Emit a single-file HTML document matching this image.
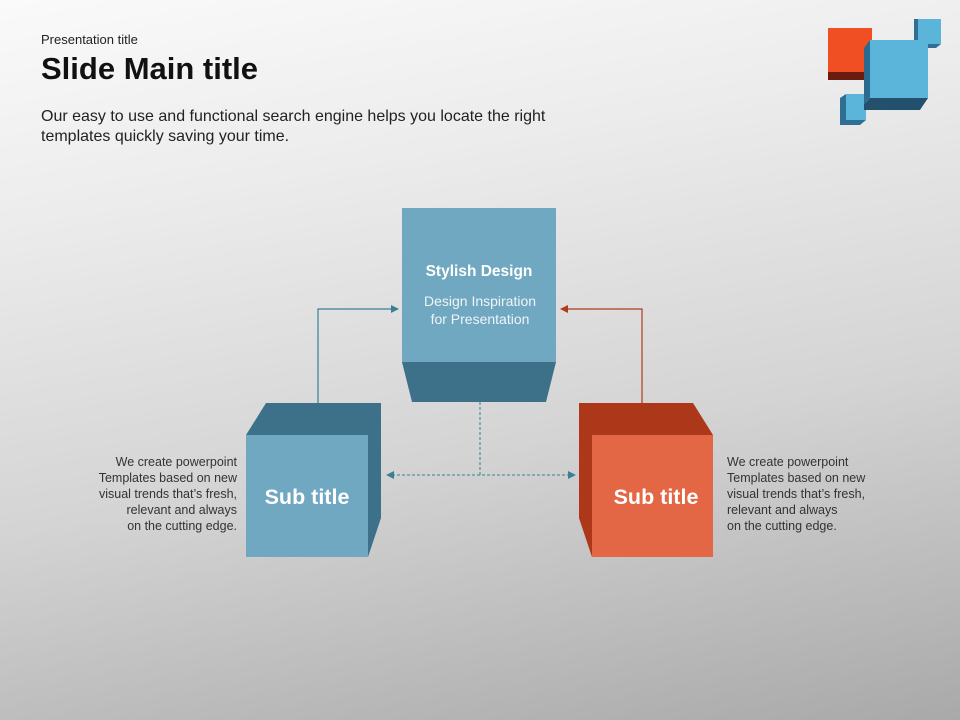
<!DOCTYPE html>
<html><head><style>
body{margin:0;width:960px;height:720px;overflow:hidden;font-family:"Liberation Sans",sans-serif;}
.bg{position:absolute;inset:0;background:linear-gradient(170deg,#fafafa 0%,#ececec 25%,#d4d4d4 60%,#a9a9a9 100%);}
.t{position:absolute;color:#222;white-space:nowrap;}
</style></head><body>
<div class="bg"></div>
<div class="t" style="left:41px;top:32px;font-size:13px;">Presentation title</div>
<div class="t" style="left:41px;top:51px;font-size:31px;font-weight:bold;color:#111;">Slide Main title</div>
<div class="t" style="left:41px;top:107px;font-size:16px;line-height:20px;">Our easy to use and functional search engine helps you locate the right<br>templates quickly saving your time.</div>
<div class="t" style="left:40px;top:454px;width:197px;text-align:right;font-size:12.5px;line-height:16px;color:#333;">We create powerpoint<br>Templates based on new<br>visual trends that’s fresh,<br>relevant and always<br>on the cutting edge.</div>
<div class="t" style="left:727px;top:454px;width:180px;font-size:12.5px;line-height:16px;color:#333;">We create powerpoint<br>Templates based on new<br>visual trends that’s fresh,<br>relevant and always<br>on the cutting edge.</div>
<svg width="960" height="720" style="position:absolute;left:0;top:0">
<defs>
<marker id="ab" markerWidth="8" markerHeight="8" refX="7" refY="4" orient="auto" markerUnits="userSpaceOnUse"><path d="M0,0 L8,4 L0,8z" fill="#3a7f97"/></marker>
<marker id="ar" markerWidth="8" markerHeight="8" refX="7" refY="4" orient="auto" markerUnits="userSpaceOnUse"><path d="M0,0 L8,4 L0,8z" fill="#b03b1e"/></marker>
<marker id="ad" markerWidth="8" markerHeight="8" refX="7" refY="4" orient="auto-start-reverse" markerUnits="userSpaceOnUse"><path d="M0,0 L8,4 L0,8z" fill="#3a7f97"/></marker>
</defs>
<rect x="828" y="28" width="44" height="44" fill="#f04e23"/>
<rect x="828" y="72" width="44" height="8" fill="#6b1c10"/>
<polygon points="840,98 846,94 866,94 866,120 860,125 840,125" fill="#2e6f93"/>
<rect x="846" y="94" width="20" height="26" fill="#5bb4da"/>
<polygon points="914,19 918,19 941,19 941,44 936,48 914,48" fill="#2e6f93"/>
<rect x="918" y="19" width="23" height="25" fill="#5bb4da"/>
<polygon points="864,104 870,98 870,40 928,40 928,98 920,110 864,110" fill="#23506c"/>
<polygon points="864,104 870,98 870,40 864,48" fill="#2c6a8e"/>
<rect x="870" y="40" width="58" height="58" fill="#5bb4da"/>
<rect x="402" y="208" width="154" height="155" fill="#71a8c1"/>
<polygon points="402,362 556,362 546,402 412,402" fill="#3d7189"/>
<polygon points="246,435 266,403 381,403 381,518 368,557 246,557" fill="#3d7189"/>
<rect x="246" y="435" width="122" height="122" fill="#71a8c1"/>
<polygon points="579,403 693,403 713,435 713,557 592,557 579,518" fill="#ad3719"/>
<rect x="592" y="435" width="121" height="122" fill="#e36745"/>
<polyline points="318,403 318,309 398,309" fill="none" stroke="#3a7f97" stroke-width="1.2" marker-end="url(#ab)"/>
<polyline points="642,403 642,309 561,309" fill="none" stroke="#b03b1e" stroke-width="1.2" marker-end="url(#ar)"/>
<line x1="480" y1="402" x2="480" y2="475" stroke="#3a7f97" stroke-width="1" stroke-dasharray="3,2"/>
<line x1="387" y1="475" x2="575" y2="475" stroke="#3a7f97" stroke-width="1" stroke-dasharray="3,2" marker-start="url(#ad)" marker-end="url(#ad)"/>
<g font-family="Liberation Sans, sans-serif" fill="#fff" text-anchor="middle">
<text x="479" y="276" font-size="15.5" font-weight="bold">Stylish Design</text>
<text x="480" y="306" font-size="14" fill="#eef4f7">Design Inspiration</text>
<text x="480" y="324" font-size="14" fill="#eef4f7">for Presentation</text>
<text x="307" y="504" font-size="21.5" font-weight="bold">Sub title</text>
<text x="656" y="504" font-size="21.5" font-weight="bold">Sub title</text>
</g>
</svg>
</body></html>
